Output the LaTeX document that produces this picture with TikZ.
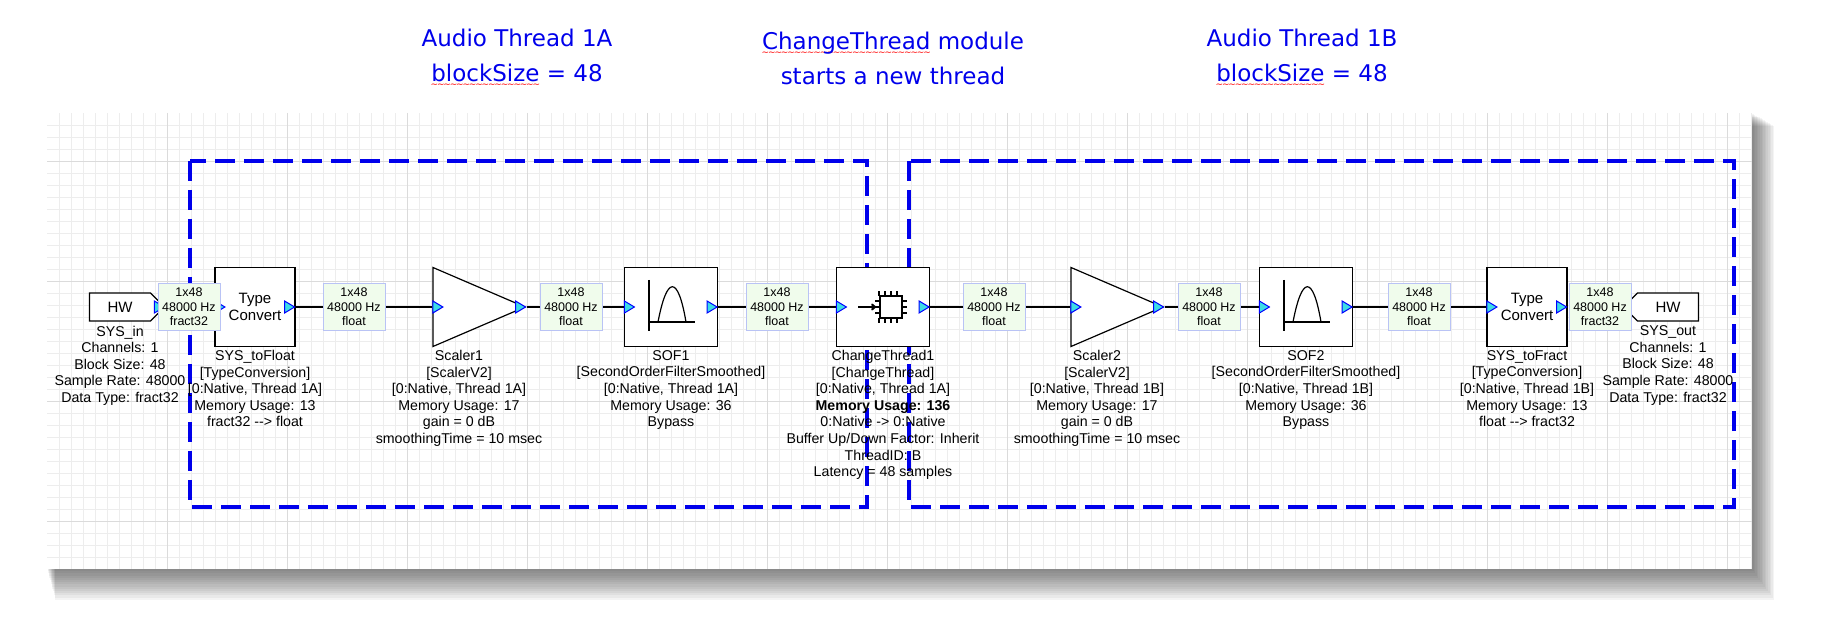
\documentclass[tikz,border=0pt]{standalone}
\usepackage{fontspec}
\setmainfont{Liberation Sans}
\newfontfamily\titlefont{DejaVu Sans}
\usetikzlibrary{positioning}
\usetikzlibrary{arrows.meta}
\usetikzlibrary{shapes.geometric,shapes.symbols}
\definecolor{adiblue}{RGB}{0,0,235}
\definecolor{pinfill}{RGB}{240,252,236}
\definecolor{pinline}{RGB}{185,195,245}
\definecolor{tricol}{RGB}{60,220,230}
\newcommand\spell[1]{\setbox0\hbox{#1}\leavevmode\rlap{\color{red}\raisebox{-6pt}{\hbox to \wd0{\xleaders\hbox{\titlefont\fontsize{9}{9}\selectfont\kern-0.6pt∼\kern-0.6pt}\hfil}}}\box0\relax}
\newcommand\pinin[1]{\filldraw[fill=tricol,draw=blue,line width=1pt] (#1) ++(0.5,-6) -- ++(10,6) -- ++(-10,6) -- cycle;}
\newcommand\pinout[1]{\filldraw[fill=tricol,draw=blue,line width=1pt] (#1) ++(-11,-6) -- ++(10,6) -- ++(-10,6) -- cycle;}
\pgfdeclarelayer{grid}
\pgfdeclarelayer{lines}
\pgfsetlayers{grid,lines,main}
\tikzset{
  block/.style={draw, line width=1.2pt, fill=white, minimum width=80pt, minimum height=79pt, align=center, font=\fontsize{15}{17}\selectfont},
  pin/.style={draw=pinline, line width=1pt, fill=pinfill, minimum width=62pt, minimum height=47pt, inner sep=1pt, align=center, font=\fontsize{12.5}{14.5}\selectfont},
  amp/.style={draw, line width=1.2pt, fill=white, isosceles triangle, isosceles triangle stretches, minimum width=79pt, minimum height=92pt, inner sep=0pt},
  hw/.style={draw, line width=1.2pt, fill=white, signal, signal from=nowhere, minimum width=75pt, minimum height=28pt, font=\fontsize{15}{17}\selectfont},
  lbl/.style={align=center, inner sep=0pt, font=\fontsize{14.2}{16.6}\selectfont},
  thread/.style={draw=adiblue, line width=4pt, dash pattern=on 20pt off 9pt},
  title/.style={text=adiblue, align=center, font=\titlefont\fontsize{23}{35}\selectfont},
  wire/.style={line width=1.4pt}
}
\begin{document}
\begin{tikzpicture}[x=1pt,y=-1pt]
\useasboundingbox (0,0) rectangle (1823,617);
% panel with shadow
\begin{pgfonlayer}{grid}
\foreach \i in {1,...,14}
  \fill[black,opacity=0.045] (47+\i*0.6,113+\i*0.9) rectangle (1752+\i*1.6,569+\i*2.2);
\fill[white] (47,113) rectangle (1752,569);
\foreach \x in {59,71,...,1751} \draw[black!7,line width=0.5pt] (\x,113) -- (\x,569);
\foreach \y in {125,137,...,568} \draw[black!7,line width=0.5pt] (47,\y) -- (1752,\y);
\foreach \x in {167,287,...,1751} \draw[black!14,line width=0.8pt] (\x,113) -- (\x,569);
\foreach \y in {161,281,401,521} \draw[black!14,line width=0.8pt] (47,\y) -- (1752,\y);
\end{pgfonlayer}
% titles
\node[title] (tA) at (517,58) {Audio Thread 1A\\\spell{blockSize} = 48};
\node[title] (tM) at (893,58) {\spell{ChangeThread} module\\starts a new thread};
\node[title] (tB) at (1302,58) {Audio Thread 1B\\\spell{blockSize} = 48};
% threads
\draw[thread] (190,161) rectangle (867,507);
\draw[thread] (909,161) rectangle (1734,507);
% blocks
\node[hw, signal to=east] (hwin) at (120,307) {HW};
\node[block] (tc1) at (255,307) {Type\\Convert};
\node[amp] (sc1) at (459,307) {};
\node[block, minimum width=93pt] (sof1) at (671,307) {};
\node[block, minimum width=93pt] (ct1) at (883,307) {};
\node[amp] (sc2) at (1097,307) {};
\node[block, minimum width=93pt] (sof2) at (1306,307) {};
\node[block] (tc2) at (1527,307) {Type\\Convert};
\node[hw, signal to=west] (hwout) at (1668,307) {HW};
% icons
\foreach \f in {sof1,sof2} {
  \draw[line width=1.2pt] ([shift={(-22,-27)}]\f.center) -- ([shift={(-22,24)}]\f.center);
  \draw[line width=1.2pt] ([shift={(-22,15)}]\f.center) -- ([shift={(24,15)}]\f.center);
  \draw[line width=1.2pt] ([shift={(-13,15)}]\f.center) .. controls ([shift={(-4,-32)}]\f.center) and ([shift={(7,-32)}]\f.center) .. ([shift={(15,15)}]\f.center);
}
\draw[line width=2pt,-{>[length=5pt,width=7pt]}] ([xshift=-25]ct1.center) -- ([xshift=-7]ct1.center);
\draw[line width=1.6pt] ([shift={(-3,-11)}]ct1.center) rectangle ([shift={(19,11)}]ct1.center);
\foreach \d in {-6,0,6,12} {
  \draw[line width=1.4pt] ([shift={(\d+2,-11)}]ct1.center) -- ++(0,-5);
  \draw[line width=1.4pt] ([shift={(\d+2,11)}]ct1.center) -- ++(0,5);
}
\foreach \d in {-6,0,6} {
  \draw[line width=1.4pt] ([shift={(-3,\d)}]ct1.center) -- ++(-5,0);
  \draw[line width=1.4pt] ([shift={(19,\d)}]ct1.center) -- ++(5,0);
}
% port triangles
\pinout{hwin.east}
\foreach \b in {tc1,sc1,sof1,ct1,sc2,sof2,tc2} {\pinin{\b.west} \pinout{\b.east}}
% pins
\node[pin] (p1) at (189,307) {1x48\\48000 Hz\\fract32};
\node[pin] (p2) at (354,307) {1x48\\48000 Hz\\float};
\node[pin] (p3) at (571,307) {1x48\\48000 Hz\\float};
\node[pin] (p4) at (777,307) {1x48\\48000 Hz\\float};
\node[pin] (p5) at (994,307) {1x48\\48000 Hz\\float};
\node[pin] (p6) at (1209,307) {1x48\\48000 Hz\\float};
\node[pin] (p7) at (1419,307) {1x48\\48000 Hz\\float};
\node[pin] (p8) at (1600,307) {1x48\\48000 Hz\\fract32};
% wires
\begin{pgfonlayer}{lines}
\draw[wire] (tc1.east) -- (p2) -- (sc1.west);
\draw[wire] (sc1.east) -- (p3) -- (sof1.west);
\draw[wire] (sof1.east) -- (p4) -- (ct1.west);
\draw[wire] (ct1.east) -- (p5) -- (sc2.west);
\draw[wire] (sc2.east) -- (p6) -- (sof2.west);
\draw[wire] (sof2.east) -- (p7) -- (tc2.west);
\end{pgfonlayer}
% labels
\node[lbl, below=4pt of hwin] (hwinlbl) {SYS\_in\\Channels: 1\\Block Size: 48\\Sample Rate: 48000\\Data Type: fract32};
\node[lbl, below=3pt of tc1] (tc1lbl) {SYS\_toFloat\\{}[TypeConversion]\\{}[0:Native, Thread 1A]\\Memory Usage: 13\\fract32 -{}-> float};
\node[lbl, below=43pt of sc1.center] (sc1lbl) {Scaler1\\{}[ScalerV2]\\{}[0:Native, Thread 1A]\\Memory Usage: 17\\gain = 0 dB\\smoothingTime = 10 msec};
\node[lbl, below=3pt of sof1] (sof1lbl) {SOF1\\{}[SecondOrderFilterSmoothed]\\{}[0:Native, Thread 1A]\\Memory Usage: 36\\Bypass};
\node[lbl, below=3pt of ct1] (ct1lbl) {ChangeThread1\\{}[ChangeThread]\\{}[0:Native, Thread 1A]\\\textbf{Memory Usage: 136}\\0:Native -> 0:Native\\Buffer Up/Down Factor: Inherit\\ThreadID: B\\Latency = 48 samples};
\node[lbl, below=43pt of sc2.center] (sc2lbl) {Scaler2\\{}[ScalerV2]\\{}[0:Native, Thread 1B]\\Memory Usage: 17\\gain = 0 dB\\smoothingTime = 10 msec};
\node[lbl, below=3pt of sof2] (sof2lbl) {SOF2\\{}[SecondOrderFilterSmoothed]\\{}[0:Native, Thread 1B]\\Memory Usage: 36\\Bypass};
\node[lbl, below=3pt of tc2] (tc2lbl) {SYS\_toFract\\{}[TypeConversion]\\{}[0:Native, Thread 1B]\\Memory Usage: 13\\float -{}-> fract32};
\node[lbl, below=4pt of hwout] (hwoutlbl) {SYS\_out\\Channels: 1\\Block Size: 48\\Sample Rate: 48000\\Data Type: fract32};
\end{tikzpicture}
\end{document}
